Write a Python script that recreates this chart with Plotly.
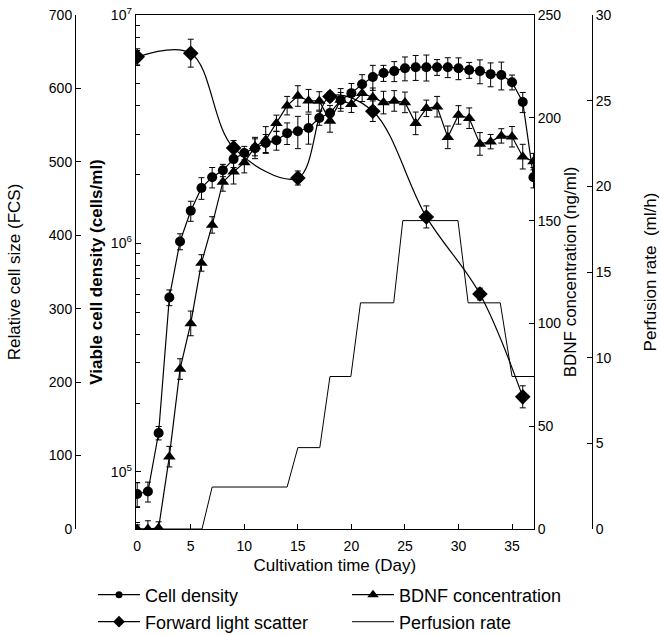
import plotly.graph_objects as go

# ---------------- data ----------------
days = list(range(0, 38))

cell_density = [8.0e4, 8.2e4, 1.48e5, 5.8e5, 1.02e6, 1.39e6, 1.75e6, 1.95e6, 2.09e6, 2.34e6,
                2.49e6, 2.61e6, 2.75e6, 2.83e6, 3.04e6, 3.10e6, 3.20e6, 3.54e6, 3.72e6, 4.24e6,
                4.55e6, 4.98e6, 5.35e6, 5.57e6, 5.68e6, 5.85e6, 5.91e6, 5.91e6, 5.91e6, 5.91e6,
                5.85e6, 5.74e6, 5.68e6, 5.51e6, 5.46e6, 5.08e6, 4.16e6, 1.95e6]
cell_density_err = [9.6e3, 8.2e3, 1.0e4, 4.6e4, 8.2e4, 1.4e5, 1.9e5, 2.0e5, 1.3e5, 1.9e5,
                    1.7e5, 2.6e5, 2.5e5, 2.7e5, 3.3e5, 5.0e5, 4.8e5, 2.5e5, 3.0e5, 3.4e5,
                    4.6e5, 5.0e5, 6.7e5, 4.5e5, 5.7e5, 7.0e5, 7.4e5, 7.7e5, 4.7e5, 5.9e5,
                    6.4e5, 4.6e5, 6.8e5, 6.6e5, 7.6e5, 3.8e5, 4.2e5, 2.0e5]

bdnf = [0, 0, 0.5, 35.2, 77.8, 100, 129.4, 147.9, 168.8, 173.8,
        178.2, 186, 189.2, 197.3, 205.9, 210.6, 208.3, 208.2, 198.5, 208.7,
        206.6, 211.9, 210, 207.4, 208.2, 207.5, 197.3, 204.6, 205.4, 190.5,
        201.4, 199.8, 187.3, 188.4, 191.2, 190.8, 181.1, 178.7]
bdnf_err = [2, 4, 3, 5, 5, 6, 4, 4, 4.5, 6,
            5, 4.5, 6.5, 4, 4.5, 5, 5.5, 4.5, 5.5, 5.5,
            4, 4, 4.5, 5.5, 5, 5, 5.5, 4, 5, 5.5,
            4.5, 5, 5.5, 3.5, 3.5, 5, 6, 4]

fcs_days = [0, 5, 9, 15, 18, 22, 27, 32, 36]
fcs = [643, 648, 519, 478, 589, 569, 425, 320, 180]
fcs_err = [11, 19, 10, 9.5, 6, 14, 15, 8, 15]

perf_days = [0, 6.05, 7.0, 14.0, 15.0, 17.05, 18.0, 19.95, 20.85, 23.95, 24.8, 29.95, 30.9, 33.9, 35.0, 37.05]
perf_rate = [0, 0, 2.45, 2.45, 4.75, 4.75, 8.9, 8.9, 13.2, 13.2, 18.0, 18.0, 13.2, 13.2, 8.9, 8.9]

x_ticks = [0, 5, 10, 15, 20, 25, 30, 35]
log_ticks = [1e5, 1e6, 1e7]
log_ticktext = ["10<sup>5</sup>", "10<sup>6</sup>", "10<sup>7</sup>"]
log_minor = [6e4, 7e4, 8e4, 9e4] + [k * 1e5 for k in range(2, 10)] + [k * 1e6 for k in range(2, 10)]

# ---------------- figure ----------------
FONT = "Liberation Sans, Arial, sans-serif"
BLACK = "black"
err_style = dict(type="data", color=BLACK, thickness=1, width=3, visible=True)

fig = go.Figure()

fig.add_trace(go.Scatter(x=perf_days, y=perf_rate, yaxis="y4", mode="lines",
                         line=dict(color=BLACK, width=1), showlegend=False))

fig.add_trace(go.Scatter(x=fcs_days, y=fcs, yaxis="y2", mode="lines+markers",
                         line=dict(color=BLACK, width=1.2, shape="spline", smoothing=1.0),
                         marker=dict(symbol="diamond", size=12, color=BLACK),
                         error_y=dict(array=fcs_err, **err_style), showlegend=False))

fig.add_trace(go.Scatter(x=days, y=cell_density, yaxis="y", mode="lines+markers",
                         line=dict(color=BLACK, width=1.2),
                         marker=dict(symbol="circle", size=10, color=BLACK),
                         error_y=dict(array=cell_density_err, **err_style), showlegend=False))

fig.add_trace(go.Scatter(x=days, y=bdnf, yaxis="y3", mode="lines+markers",
                         line=dict(color=BLACK, width=1.2),
                         marker=dict(symbol="triangle-up", size=11, color=BLACK),
                         error_y=dict(array=bdnf_err, **err_style), showlegend=False))

# legend entries
leg_font = dict(family=FONT, size=18, color=BLACK)
fig.add_trace(go.Scatter(x=[None], y=[None], mode="lines+markers", name="Cell density",
                         line=dict(color=BLACK, width=1.2), marker=dict(symbol="circle", size=7, color=BLACK),
                         legend="legend"))
fig.add_trace(go.Scatter(x=[None], y=[None], mode="lines+markers", name="Forward light scatter",
                         line=dict(color=BLACK, width=1.2), marker=dict(symbol="diamond", size=9, color=BLACK),
                         legend="legend2"))
fig.add_trace(go.Scatter(x=[None], y=[None], mode="lines+markers", name="BDNF concentration",
                         line=dict(color=BLACK, width=1.2), marker=dict(symbol="triangle-up", size=10, color=BLACK),
                         legend="legend3"))
fig.add_trace(go.Scatter(x=[None], y=[None], mode="lines", name="Perfusion rate",
                         line=dict(color=BLACK, width=1), legend="legend4"))

W, H = 661, 635
ml, mr, mt, mb = 75, 69, 15, 106
pw = W - ml - mr
ph = H - mt - mb
dx0 = (135.7 - ml) / pw
dx1 = (534 - ml) / pw

axis_common = dict(showline=True, linecolor=BLACK, linewidth=1, showgrid=False, zeroline=False,
                   ticks="inside", tickcolor=BLACK, ticklen=5,
                   tickfont=dict(family=FONT, size=14, color=BLACK))
title_font = dict(family=FONT, size=17, color=BLACK)

def leg(px, py):
    return dict(x=(px - ml) / pw, y=(H - mb - py) / ph,
                xanchor="left", yanchor="middle", font=leg_font,
                bgcolor="rgba(0,0,0,0)", borderwidth=0, itemwidth=42, orientation="v")

fig.update_layout(
    width=W, height=H,
    margin=dict(l=ml, r=mr, t=mt, b=mb, autoexpand=False),
    paper_bgcolor="white", plot_bgcolor="white",
    font=dict(family=FONT, size=14, color=BLACK),
    xaxis=dict(domain=[dx0, dx1], range=[-0.14, 37.05], tickvals=x_ticks, mirror=True,
               ticklabelstandoff=4,
               title=dict(text="Cultivation time (Day)", font=title_font, standoff=6),
               **axis_common),
    yaxis=dict(type="log", range=[4.75, 7.0], anchor="x", side="left",
               tickvals=log_ticks, ticktext=log_ticktext,
               minor=dict(tickvals=log_minor, ticks="inside", ticklen=4, tickcolor=BLACK),
               title=dict(text="<b>Viable cell density (cells/ml)</b>", font=title_font, standoff=3),
               **axis_common),
    yaxis2=dict(overlaying="y", anchor="free", position=0, side="left", range=[0, 700],
                tickvals=[0, 100, 200, 300, 400, 500, 600, 700],
                title=dict(text="Relative cell size (FCS)", font=title_font, standoff=22),
                **axis_common),
    yaxis3=dict(overlaying="y", anchor="x", side="right", range=[0, 250],
                tickvals=[0, 50, 100, 150, 200, 250],
                title=dict(text="BDNF concentration (ng/ml)", font=title_font, standoff=2),
                **axis_common),
    yaxis4=dict(overlaying="y", anchor="free", position=1, side="right", range=[0, 30],
                tickvals=[0, 5, 10, 15, 20, 25, 30],
                title=dict(text="Perfusion rate  (ml/h)", font=title_font, standoff=33),
                **axis_common),
    legend=leg(93, 595),
    legend2=leg(93, 622),
    legend3=leg(347, 595),
    legend4=leg(347, 622),
)

fig.write_html("out.html")
